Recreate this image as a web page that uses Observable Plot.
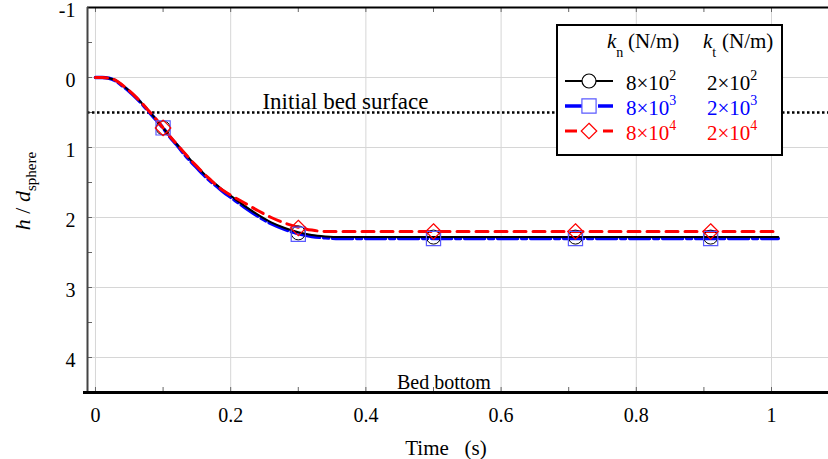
<!DOCTYPE html>
<html><head><meta charset="utf-8">
<script src="https://cdn.jsdelivr.net/npm/d3@7"></script>
<script src="https://cdn.jsdelivr.net/npm/@observablehq/plot@0.6"></script>
<style>body{margin:0;background:#fff} svg{display:block} svg text{font-family:"Liberation Serif","Times New Roman",serif}</style>
</head><body><div id="chart"></div>
<script>
// ---- data ----
const time   = [0, 0.01, 0.02, 0.03, 0.04, 0.05, 0.06, 0.07, 0.08, 0.09, 0.10, 0.11, 0.12, 0.13, 0.14, 0.15, 0.16, 0.17, 0.18, 0.19, 0.20, 0.22, 0.24, 0.26, 0.28, 0.30, 0.32, 0.34, 0.36, 0.38, 0.40, 0.50, 0.60, 0.70, 0.80, 0.90, 1.01];
const hBlack = [0, 0, 0.01, 0.04, 0.11, 0.19, 0.28, 0.38, 0.49, 0.60, 0.72, 0.84, 0.95, 1.06, 1.17, 1.27, 1.37, 1.46, 1.54, 1.62, 1.69, 1.83, 1.96, 2.07, 2.15, 2.21, 2.25, 2.27, 2.28, 2.28, 2.28, 2.28, 2.28, 2.28, 2.28, 2.28, 2.28];
const hBlue  = [0, 0, 0.01, 0.05, 0.12, 0.20, 0.29, 0.39, 0.50, 0.61, 0.72, 0.85, 0.96, 1.08, 1.19, 1.29, 1.39, 1.48, 1.56, 1.64, 1.71, 1.85, 1.98, 2.09, 2.17, 2.23, 2.27, 2.29, 2.30, 2.30, 2.30, 2.30, 2.30, 2.30, 2.30, 2.30, 2.30];
const hRed   = [0, 0, 0.01, 0.04, 0.11, 0.19, 0.28, 0.38, 0.49, 0.60, 0.72, 0.84, 0.95, 1.06, 1.17, 1.27, 1.37, 1.46, 1.55, 1.62, 1.68, 1.79, 1.90, 2.00, 2.08, 2.14, 2.18, 2.20, 2.20, 2.20, 2.20, 2.20, 2.20, 2.20, 2.20, 2.20, 2.20];
const markerTime = [0.10, 0.30, 0.50, 0.71, 0.91];
const markBlack  = [0.72, 2.22, 2.28, 2.28, 2.28];
const markBlue   = [0.72, 2.24, 2.30, 2.30, 2.30];
const markRed    = [0.72, 2.15, 2.20, 2.20, 2.20];
const xTicks = [0, 0.2, 0.4, 0.6, 0.8, 1];
const xTickLabels = ["0", "0.2", "0.4", "0.6", "0.8", "1"];
const yTicks = [-1, 0, 1, 2, 3, 4];
const yTickLabels = ["-1", "0", "1", "2", "3", "4"];
const xMinor = [0, 0.1, 0.2, 0.3, 0.4, 0.5, 0.6, 0.7, 0.8, 0.9, 1.0];
const yMinor = [-0.5, 0, 0.5, 1, 1.5, 2, 2.5, 3, 3.5, 4];
const knMantissa = ["8×10", "8×10", "8×10"];
const knExp = ["2", "3", "4"];
const ktMantissa = ["2×10", "2×10", "2×10"];
const ktExp = ["2", "3", "4"];
const seriesColors = ["#000000", "#0000ff", "#ff0000"];

// ---- layout ----
const W = 828, H = 459, mL = 87, mR = 0, mT = 7, mB = 67;
const frameH = H - mT - mB, frameW = W - mL - mR;
const serif = "Liberation Serif, Times New Roman, serif";
const rows = hs => time.map((t, i) => ({t, h: hs[i]}));
const mrows = hs => markerTime.map((t, i) => ({t, h: hs[i]}));
const blueDash = "20,4,5,4", redDash = "12,7";

const plot = Plot.plot({
  width: W, height: H, marginLeft: mL, marginRight: mR, marginTop: mT, marginBottom: mB,
  style: {fontFamily: serif, background: "#fff", color: "#000", overflow: "visible"},
  x: {domain: [-0.0118, 1.0843]},
  y: {domain: [-1, 4.5], reverse: true},
  marks: [
    Plot.gridX({ticks: xTicks, stroke: "#d6d6d6", strokeOpacity: 1}),
    Plot.gridY({ticks: yTicks, stroke: "#d6d6d6", strokeOpacity: 1}),
    Plot.tickX(xMinor, {x: d => d, insetTop: frameH - 5, stroke: "#666"}),
    Plot.tickX(xMinor, {x: d => d, insetBottom: frameH - 5, stroke: "#666"}),
    Plot.tickY(yMinor, {y: d => d, insetRight: frameW - 5, stroke: "#666"}),
    Plot.axisX({ticks: xTicks, tickSize: 0, tickPadding: 15, fontSize: 20, fontFamily: serif, tickFormat: d => xTickLabels[xTicks.indexOf(d)], label: null}),
    Plot.axisY({ticks: yTicks, tickSize: 0, tickPadding: 12, dy: 3, fontSize: 20, fontFamily: serif, tickFormat: d => yTickLabels[yTicks.indexOf(d)], label: null}),
    Plot.ruleY([0.5], {stroke: "#000", strokeWidth: 2.5, strokeDasharray: "2.5,2.5"}),
    Plot.text(["Initial bed surface"], {x: 0.247, y: 0.5, text: d => d, textAnchor: "start", lineAnchor: "bottom", dy: -4, fontSize: 23, fontFamily: serif}),
    Plot.text(["Bed bottom"], {x: 0.5155, y: 4.5, text: d => d, lineAnchor: "bottom", dy: -4, fontSize: 20, fontFamily: serif}),
    Plot.line(rows(hBlue), {x: "t", y: "h", stroke: seriesColors[1], strokeWidth: 3.5, strokeDasharray: blueDash, curve: "monotone-x"}),
    Plot.line(rows(hBlack), {x: "t", y: "h", stroke: seriesColors[0], strokeWidth: 2, curve: "monotone-x"}),
    Plot.line(rows(hRed), {x: "t", y: "h", stroke: seriesColors[2], strokeWidth: 3, strokeDasharray: redDash, curve: "monotone-x"}),
    Plot.dot(mrows(markBlack), {x: "t", y: "h", symbol: "circle", r: 7, stroke: "#000", strokeWidth: 1, fill: "none"}),
    Plot.dot(mrows(markBlue), {x: "t", y: "h", symbol: "square", r: 8, stroke: "#5a5aff", strokeWidth: 1.2, fill: "none"}),
    Plot.dot(mrows(markRed), {x: "t", y: "h", symbol: "diamond2", r: 7, stroke: "#ff0000", strokeWidth: 1.2, fill: "none"}),
    Plot.ruleY([-1], {stroke: "#000", strokeWidth: 2}),
    Plot.ruleX([-0.0118], {stroke: "#444", strokeWidth: 2}),
    Plot.ruleY([4.5], {stroke: "#000", strokeWidth: 3, insetLeft: -4})
  ]
});
document.getElementById("chart").appendChild(plot);

const svg = d3.select(plot);
// y label
const yl = svg.append("text").attr("transform", "translate(30,191) rotate(-90)")
  .attr("text-anchor", "middle").attr("fill", "#000")
  .attr("font-family", serif).attr("font-size", 22);
yl.append("tspan").attr("font-style", "italic").text("h");
yl.append("tspan").attr("xml:space", "preserve").text(" / ");
yl.append("tspan").attr("font-style", "italic").text("d");
yl.append("tspan").attr("dy", 6).attr("font-size", 15).text("sphere");
// x label
svg.append("text").attr("x", 446).attr("y", 455).attr("text-anchor", "middle").attr("fill", "#000")
  .attr("font-family", serif).attr("font-size", 21).style("white-space", "pre").text("Time   (s)");

// legend
const lg = svg.append("g").attr("font-family", serif).attr("font-size", 21).attr("text-anchor", "start");
lg.append("rect").attr("x", 557).attr("y", 25).attr("width", 225).attr("height", 130)
  .attr("fill", "#fff").attr("stroke", "#000").attr("stroke-width", 2);
function header(x, sub, x2) {
  const t = lg.append("text").attr("x", x).attr("y", 48).attr("fill", "#000");
  t.append("tspan").attr("font-style", "italic").text("k");
  t.append("tspan").attr("dy", 9).attr("font-size", 14).text(sub);
  lg.append("text").attr("x", x2).attr("y", 48).attr("fill", "#000").text("(N/m)");
}
header(607, "n", 628);
header(703, "t", 722);
const symbols = [d3.symbolCircle, d3.symbolSquare, d3.symbolDiamond2];
const symSizes = [Math.PI * 49, Math.PI * 64, Math.PI * 49];
const dashes = [null, blueDash, redDash];
const widths = [2, 3.5, 3];
const symStroke = ["#000", "#5a5aff", "#ff0000"];
seriesColors.forEach((c, i) => {
  const yb = 90 + 25 * i, yc = yb - 9;
  lg.append("line").attr("x1", 565).attr("x2", 613).attr("y1", yc).attr("y2", yc)
    .attr("stroke", c).attr("stroke-width", widths[i]).attr("stroke-dasharray", dashes[i]);
  lg.append("path").attr("d", d3.symbol(symbols[i], symSizes[i])()).attr("transform", `translate(589,${yc})`)
    .attr("fill", "#fff").attr("stroke", symStroke[i]).attr("stroke-width", 1.2);
  const a = lg.append("text").attr("x", 626).attr("y", yb).attr("fill", c);
  a.append("tspan").text(knMantissa[i]);
  a.append("tspan").attr("dy", -10).attr("font-size", 14).text(knExp[i]);
  const b = lg.append("text").attr("x", 707).attr("y", yb).attr("fill", c);
  b.append("tspan").text(ktMantissa[i]);
  b.append("tspan").attr("dy", -10).attr("font-size", 14).text(ktExp[i]);
});
</script></body></html>
